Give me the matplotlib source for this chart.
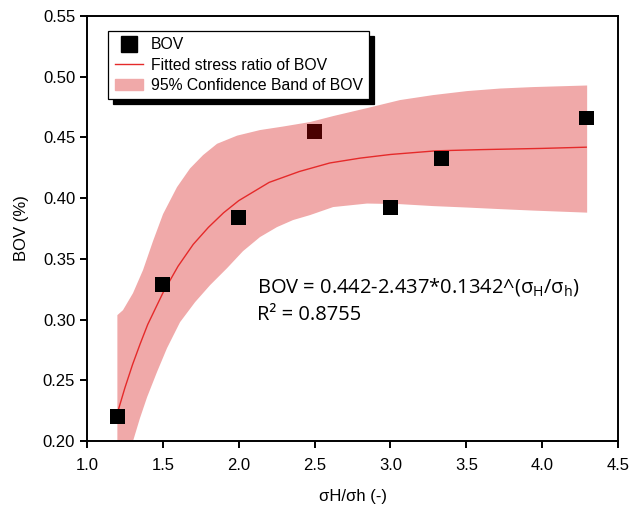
import matplotlib
matplotlib.use("Agg")
import matplotlib.pyplot as plt
from matplotlib.lines import Line2D
from matplotlib.patches import Patch

# Measured BOV points
ratio = [1.2, 1.5, 2.0, 2.5, 3.0, 3.338, 4.29]
bov = [0.220, 0.329, 0.384, 0.455, 0.392, 0.433, 0.466]
point_colors = ["black", "black", "black", "#4a0000", "black", "black", "black"]

# Fitted curve
fit_x = [1.2, 1.25, 1.3, 1.35, 1.4, 1.5, 1.6, 1.7, 1.8, 1.9, 2.0, 2.2, 2.4,
         2.6, 2.8, 3.0, 3.3, 3.6, 4.0, 4.29]
fit_y = [0.223, 0.244, 0.263, 0.280, 0.296, 0.322, 0.344, 0.362, 0.376, 0.388,
         0.398, 0.413, 0.422, 0.429, 0.433, 0.436, 0.439, 0.440, 0.441, 0.442]

# 95% confidence band edges
up_x = [1.200, 1.237, 1.303, 1.369, 1.435, 1.501, 1.593, 1.679, 1.765, 1.857,
        1.989, 2.140, 2.292, 2.470, 2.622, 2.846, 3.063, 3.281, 3.505, 3.723,
        3.940, 4.296]
up_y = [0.3037, 0.3078, 0.3218, 0.3408, 0.3647, 0.3869, 0.4091, 0.4245, 0.4355,
        0.4448, 0.4515, 0.4561, 0.4590, 0.4627, 0.4676, 0.4742, 0.4808, 0.4849,
        0.4882, 0.4903, 0.4915, 0.4928]
lo_x = [1.200, 1.250, 1.303, 1.349, 1.396, 1.461, 1.527, 1.613, 1.712, 1.811,
        1.923, 2.028, 2.140, 2.252, 2.358, 2.470, 2.622, 2.846, 3.063, 3.281,
        3.505, 3.723, 3.940, 4.296]
lo_y = [0.1563, 0.1785, 0.1999, 0.2189, 0.2362, 0.2568, 0.2765, 0.2979, 0.3144,
        0.3284, 0.3424, 0.3564, 0.3680, 0.3762, 0.3820, 0.3861, 0.3927, 0.3956,
        0.3951, 0.3935, 0.3923, 0.3910, 0.3898, 0.3881]

plt.rcParams['font.family'] = ['Liberation Sans', 'DejaVu Sans']

fig = plt.figure(figsize=(6.32, 5.07), dpi=100)
ax = fig.add_axes([0.1377, 0.130, 0.8403, 0.8384])

band_color = "#f0a9a9"
poly_x = up_x + lo_x[::-1]
poly_y = up_y + lo_y[::-1]
ax.fill(poly_x, poly_y, color=band_color, lw=0, zorder=1)
ax.plot(fit_x, fit_y, color="#e52a2a", lw=1.0, zorder=2)
ax.scatter(ratio, bov, marker="s", s=115, c=point_colors, zorder=3, lw=0)

ax.set_xlim(1.0, 4.5)
ax.set_ylim(0.20, 0.55)
ax.set_xticks([1.0, 1.5, 2.0, 2.5, 3.0, 3.5, 4.0, 4.5])
ax.set_yticks([0.20, 0.25, 0.30, 0.35, 0.40, 0.45, 0.50, 0.55])
ax.xaxis.set_major_formatter(matplotlib.ticker.FormatStrFormatter('%.1f'))
ax.yaxis.set_major_formatter(matplotlib.ticker.FormatStrFormatter('%.2f'))
for s in ax.spines.values():
    s.set_linewidth(1.4)
ax.tick_params(direction='out', length=5, width=1.4, labelsize=12)
ax.tick_params(axis='x', pad=7)
ax.set_xlabel("σH/σh (-)", fontsize=12, labelpad=12)
ax.set_ylabel("BOV (%)", fontsize=12, labelpad=10)

eq_font = ['Open Sans', 'DejaVu Sans']
ax.text(2.12, 0.322, "BOV = 0.442-2.437*0.1342^(σ$_\\mathregular{H}$/σ$_\\mathregular{h}$)",
        fontsize=14.5, family=eq_font, va='baseline')
ax.text(2.12, 0.2996, "R² = 0.8755", fontsize=14.5, family=eq_font, va='baseline')

handles = [
    Line2D([], [], marker="s", color="black", ls="none", markersize=11),
    Line2D([], [], color="#e52a2a", lw=1.0),
    Patch(facecolor=band_color, edgecolor=band_color),
]
labels = ["BOV", "Fitted stress ratio of BOV", "95% Confidence Band of BOV"]
leg = ax.legend(handles, labels, loc="upper left", bbox_to_anchor=(0.040, 0.965),
                fontsize=11.3, frameon=True, fancybox=False,
                shadow={'color': 'black', 'alpha': 1.0, 'ox': 3.6, 'oy': -3.6},
                borderpad=0.4, labelspacing=0.34, handlelength=1.8, handletextpad=0.5,
                borderaxespad=0)
leg.get_frame().set_edgecolor("black")
leg.get_frame().set_linewidth(0.9)

fig.savefig("out.png", dpi=100)
